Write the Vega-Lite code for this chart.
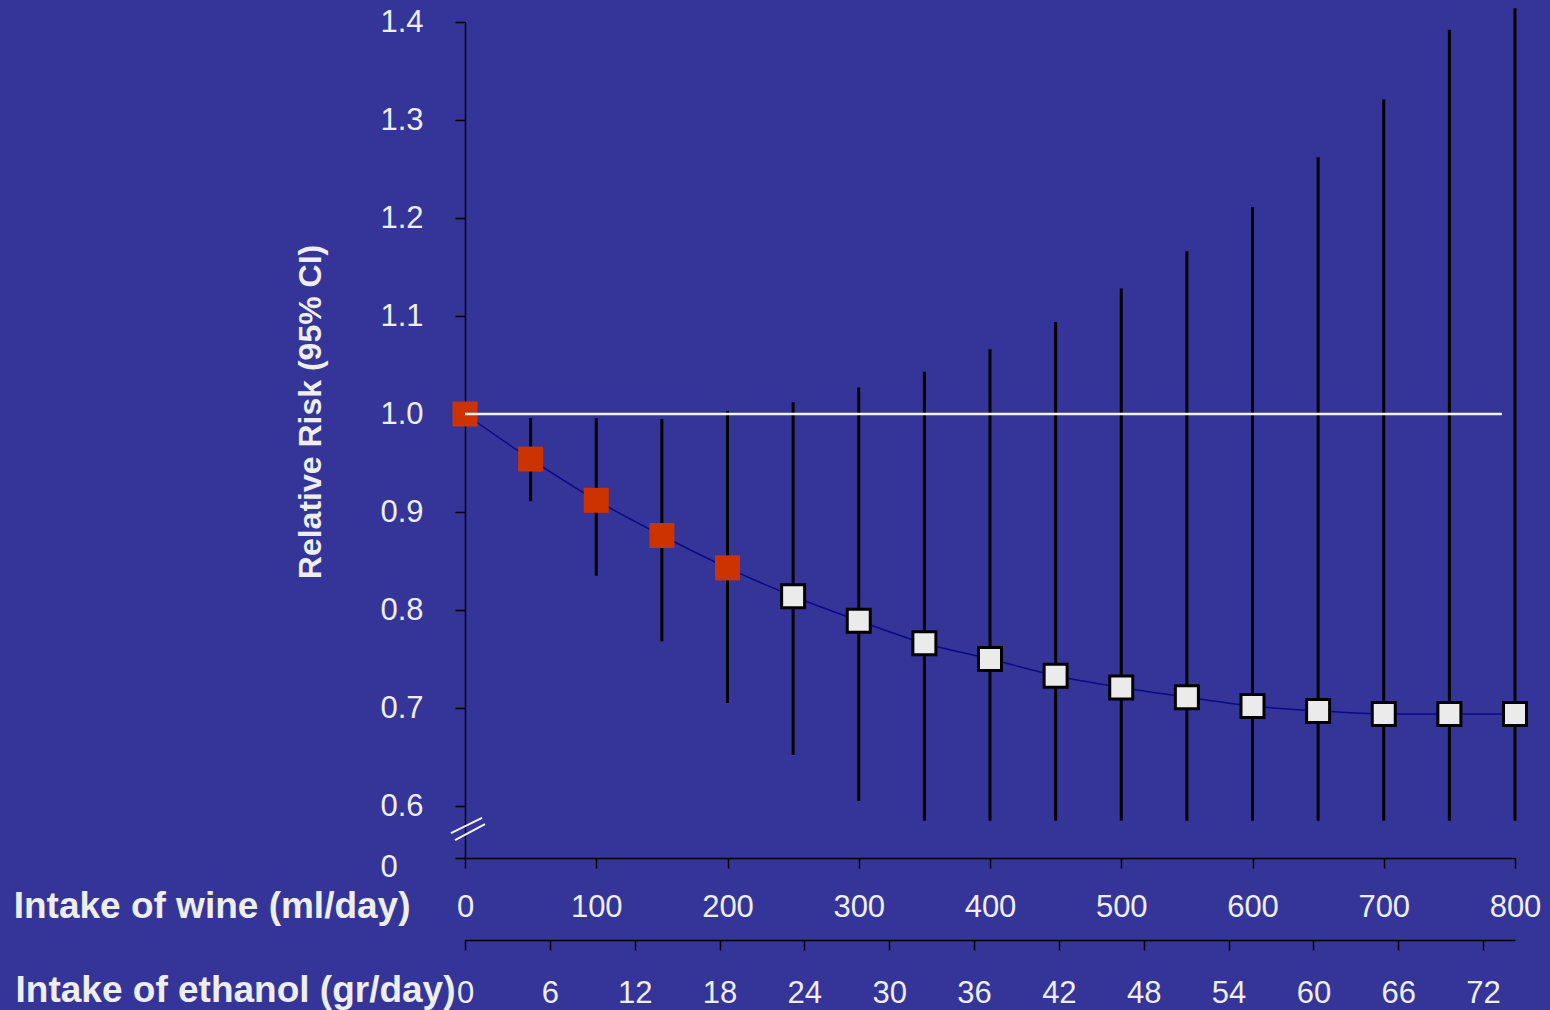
{
  "$schema": "https://vega.github.io/schema/vega-lite/v6.json",
  "width": 1050,
  "height": 836,
  "autosize": {"type": "none"},
  "padding": {"left": 465, "top": 22, "right": 35, "bottom": 152},
  "background": "#353599",
  "config": {"view": {"stroke": null}, "font": "Liberation Sans"},
  "datasets": {
    "risk": [
      {"wine": 0, "rr": 1.0, "sig": "yes"},
      {"wine": 50, "rr": 0.954, "lo": 0.911, "hi": 0.996, "sig": "yes"},
      {"wine": 100, "rr": 0.912, "lo": 0.835, "hi": 0.996, "sig": "yes"},
      {"wine": 150, "rr": 0.876, "lo": 0.768, "hi": 0.995, "sig": "yes"},
      {"wine": 200, "rr": 0.843, "lo": 0.705, "hi": 1.003, "sig": "yes"},
      {"wine": 250, "rr": 0.814, "lo": 0.652, "hi": 1.012, "sig": "no"},
      {"wine": 300, "rr": 0.789, "lo": 0.605, "hi": 1.027, "sig": "no"},
      {"wine": 350, "rr": 0.766, "lo": 0.585, "hi": 1.043, "sig": "no"},
      {"wine": 400, "rr": 0.75, "lo": 0.585, "hi": 1.066, "sig": "no"},
      {"wine": 450, "rr": 0.733, "lo": 0.585, "hi": 1.094, "sig": "no"},
      {"wine": 500, "rr": 0.721, "lo": 0.585, "hi": 1.128, "sig": "no"},
      {"wine": 550, "rr": 0.711, "lo": 0.585, "hi": 1.166, "sig": "no"},
      {"wine": 600, "rr": 0.702, "lo": 0.585, "hi": 1.211, "sig": "no"},
      {"wine": 650, "rr": 0.697, "lo": 0.585, "hi": 1.262, "sig": "no"},
      {"wine": 700, "rr": 0.694, "lo": 0.585, "hi": 1.321, "sig": "no"},
      {"wine": 750, "rr": 0.694, "lo": 0.585, "hi": 1.392, "sig": "no"},
      {"wine": 800, "rr": 0.694, "lo": 0.585, "hi": 1.414, "sig": "no"}
    ],
    "ethanol": [
      {"ethanol": 0}, {"ethanol": 6}, {"ethanol": 12}, {"ethanol": 18}, {"ethanol": 24},
      {"ethanol": 30}, {"ethanol": 36}, {"ethanol": 42}, {"ethanol": 48}, {"ethanol": 54},
      {"ethanol": 60}, {"ethanol": 66}, {"ethanol": 72}
    ],
    "brk": [
      {"bx": -10.7, "bx2": 13.0, "by": 0.5724, "by2": 0.5878},
      {"bx": -7.6, "bx2": 15.2, "by": 0.5653, "by2": 0.5816}
    ]
  },
  "layer": [
    {
      "data": {"name": "risk"},
      "transform": [{"filter": "isValid(datum.lo)"}],
      "mark": {"type": "rule", "color": "#000000", "strokeWidth": 3},
      "encoding": {
        "x": {
          "field": "wine", "type": "quantitative",
          "scale": {"domain": [0, 800], "nice": false, "zero": false},
          "axis": {
            "values": [0, 100, 200, 300, 400, 500, 600, 700, 800],
            "grid": false,
            "labelFlush": false,
            "labelOverlap": false,
            "labelFontSize": 31,
            "labelColor": "#EEEEEE",
            "labelBaseline": "alphabetic",
            "labelPadding": 48,
            "tickSize": 10,
            "tickColor": "#000000",
            "tickWidth": 1.5,
            "domainColor": "#000000",
            "domainWidth": 1.5,
            "title": "Intake of wine (ml/day)",
            "titleFontSize": 37,
            "titleFontWeight": "bold",
            "titleColor": "#EEEEEE",
            "titleAlign": "right",
            "titleBaseline": "alphabetic",
            "titleX": -55,
            "titleY": 59
          }
        },
        "y": {
          "field": "lo", "type": "quantitative",
          "scale": {"domain": [0.54694, 1.4], "nice": false, "zero": false},
          "axis": {
            "values": [0.54694, 0.6, 0.7, 0.8, 0.9, 1.0, 1.1, 1.2, 1.3, 1.4],
            "labelExpr": "datum.value < 0.55 ? '0' : format(datum.value, '.1f')",
            "grid": false,
            "labelOverlap": false,
            "labelFontSize": 31,
            "labelColor": "#EEEEEE",
            "labelAlign": "left",
            "labelPadding": 75,
            "labelOffset": {"condition": {"test": "datum.value < 0.55", "value": 9}, "value": 0},
            "tickSize": 10,
            "tickColor": "#000000",
            "tickWidth": 1.5,
            "domainColor": "#000000",
            "domainWidth": 1.5,
            "title": "Relative Risk (95% CI)",
            "titleFontSize": 32,
            "titleFontWeight": "bold",
            "titleColor": "#EEEEEE",
            "titleAngle": 270,
            "titleAlign": "center",
            "titleBaseline": "alphabetic",
            "titleX": -145,
            "titleY": 389.5
          }
        },
        "y2": {"field": "hi"}
      }
    },
    {
      "data": {"name": "risk"},
      "mark": {"type": "line", "color": "#0A0A85", "strokeWidth": 1.5, "interpolate": "monotone"},
      "encoding": {
        "x": {"field": "wine", "type": "quantitative", "scale": {"domain": [0, 800], "nice": false, "zero": false}, "axis": null},
        "y": {"field": "rr", "type": "quantitative"}
      }
    },
    {
      "data": {"name": "risk"},
      "transform": [{"filter": "datum.sig == 'yes'"}],
      "mark": {"type": "square", "filled": true, "color": "#CC3300", "size": 625, "opacity": 1},
      "encoding": {
        "x": {"field": "wine", "type": "quantitative", "scale": {"domain": [0, 800], "nice": false, "zero": false}, "axis": null},
        "y": {"field": "rr", "type": "quantitative"}
      }
    },
    {
      "data": {"name": "risk"},
      "transform": [{"filter": "datum.sig == 'no'"}],
      "mark": {"type": "square", "filled": true, "fill": "#EBEBEB", "stroke": "#000000", "strokeWidth": 3, "size": 529, "opacity": 1},
      "encoding": {
        "x": {"field": "wine", "type": "quantitative", "scale": {"domain": [0, 800], "nice": false, "zero": false}, "axis": null},
        "y": {"field": "rr", "type": "quantitative"}
      }
    },
    {
      "data": {"values": [{"ref": 1.0, "start": 0, "end": 790}]},
      "mark": {"type": "rule", "color": "#F2F2F2", "strokeWidth": 2.5},
      "encoding": {
        "x": {"field": "start", "type": "quantitative", "scale": {"domain": [0, 800], "nice": false, "zero": false}, "axis": null},
        "x2": {"field": "end"},
        "y": {"field": "ref", "type": "quantitative"}
      }
    },
    {
      "data": {"name": "brk"},
      "mark": {"type": "rule", "color": "#F2F2F2", "strokeWidth": 2},
      "encoding": {
        "x": {"field": "bx", "type": "quantitative", "scale": {"domain": [0, 800], "nice": false, "zero": false}, "axis": null},
        "x2": {"field": "bx2"},
        "y": {"field": "by", "type": "quantitative"},
        "y2": {"field": "by2"}
      }
    },
    {
      "data": {"name": "ethanol"},
      "mark": {"type": "point", "opacity": 0},
      "encoding": {
        "x": {
          "field": "ethanol", "type": "quantitative",
          "scale": {"domain": [0, 74.26], "nice": false, "zero": false},
          "axis": {
            "orient": "bottom",
            "offset": 82,
            "values": [0, 6, 12, 18, 24, 30, 36, 42, 48, 54, 60, 66, 72],
            "grid": false,
            "labelFlush": false,
            "labelOverlap": false,
            "labelFontSize": 31,
            "labelColor": "#EEEEEE",
            "labelBaseline": "alphabetic",
            "labelPadding": 52,
            "tickSize": 10,
            "tickColor": "#000000",
            "tickWidth": 1.5,
            "domainColor": "#000000",
            "domainWidth": 1.5,
            "title": "Intake of ethanol (gr/day)",
            "titleFontSize": 37,
            "titleFontWeight": "bold",
            "titleColor": "#EEEEEE",
            "titleAlign": "right",
            "titleBaseline": "alphabetic",
            "titleX": -10,
            "titleY": 61
          }
        }
      }
    }
  ],
  "resolve": {"scale": {"x": "independent"}, "axis": {"x": "independent"}}
}
